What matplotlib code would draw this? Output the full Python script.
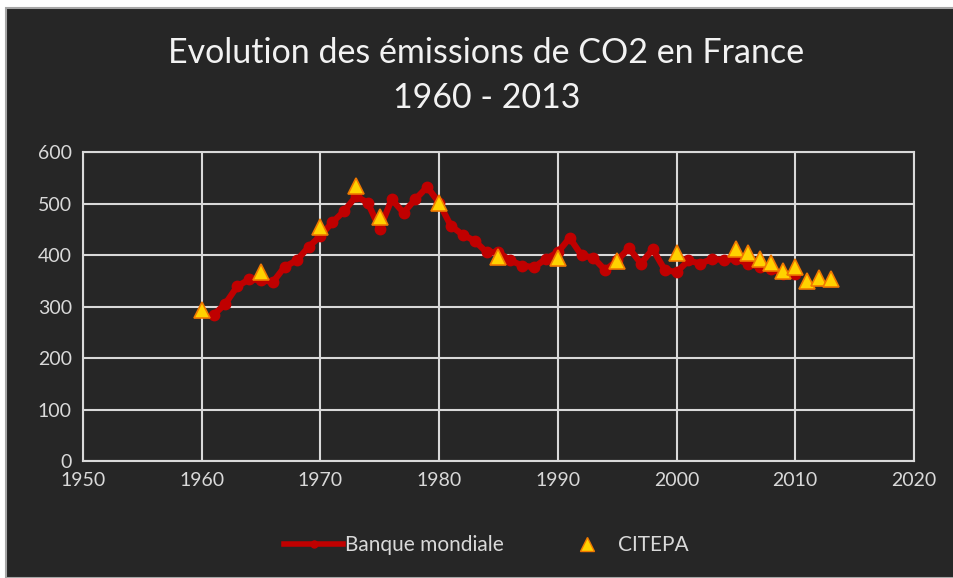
import matplotlib.pyplot as plt
from matplotlib.patches import Rectangle
from matplotlib.lines import Line2D

# Banque mondiale (line), 1961-2010
wb_years = list(range(1961, 2011))
wb_values = [284, 306, 340, 353, 352, 348, 378, 390, 416, 438,
             464, 486, 515, 502, 451, 509, 483, 509, 533, 502,
             457, 440, 428, 406, 406, 390, 380, 377, 393, 406,
             434, 400, 395, 371, 390, 414, 384, 412, 372, 367,
             390, 384, 393, 391, 393, 384, 377, 374, 363, 364]

# CITEPA (triangles)
cit_years = [1960, 1965, 1970, 1973, 1975, 1980, 1985, 1990, 1995, 2000,
             2005, 2006, 2007, 2008, 2009, 2010, 2011, 2012, 2013]
cit_values = [293, 367, 456, 535, 475, 502, 396, 394, 389, 404,
              412, 404, 392, 385, 369, 377, 350, 355, 353]

bg = '#262626'
grid_col = '#d9d9d9'
txt_col = '#d9d9d9'

fig = plt.figure(figsize=(9.54, 5.78), dpi=100)
fig.patch.set_facecolor('white')
fig.patches.append(Rectangle((6 / 954, 0), 1, 1 - 8 / 578, transform=fig.transFigure,
                             facecolor=bg, edgecolor='#a6a6a6', linewidth=1.5, zorder=-10))

ax = fig.add_axes([0.087, 0.2024, 0.871, 0.5338])
ax.set_facecolor(bg)

ax.plot(wb_years, wb_values, color='#c00000', linewidth=4.5, marker='o', markersize=7.5,
        zorder=3, solid_joinstyle='round')
ax.plot(cit_years, cit_values, linestyle='none', marker='^', markersize=11,
        markerfacecolor='#ffd200', markeredgecolor='#f07800', markeredgewidth=1.2, zorder=4)

ax.set_xlim(1950, 2020)
ax.set_ylim(0, 600)
ax.set_xticks(range(1950, 2021, 10))
ax.set_yticks(range(0, 601, 100))
ax.grid(True, color=grid_col, linewidth=1.5)
ax.set_axisbelow(True)
for s in ax.spines.values():
    s.set_color(grid_col)
    s.set_linewidth(1.5)
ax.tick_params(length=0, colors=txt_col, labelsize=14, pad=8)
for lab in ax.get_xticklabels() + ax.get_yticklabels():
    lab.set_family('Lato')

fig.text(0.51, 0.908, 'Evolution des émissions de CO2 en France', ha='center', va='center',
         color='#f2f2f2', fontsize=24.5, family='Lato')
fig.text(0.51, 0.83, '1960 - 2013', ha='center', va='center',
         color='#f2f2f2', fontsize=24.5, family='Lato')

handles = [Line2D([], [], color='#c00000', linewidth=4, marker='o', markersize=5),
           Line2D([], [], linestyle='none', marker='^', markersize=10,
                  markerfacecolor='#ffd200', markeredgecolor='#f07800')]
leg = fig.legend(handles, ['Banque mondiale', 'CITEPA'], loc='center', bbox_to_anchor=(0.51, 0.057),
                 ncol=2, frameon=False, handlelength=2.8, handletextpad=0.1,
                 columnspacing=2.6, prop={'family': 'Lato', 'size': 15})
for t in leg.get_texts():
    t.set_color(txt_col)

fig.savefig('out.png', dpi=100, facecolor=fig.get_facecolor())
